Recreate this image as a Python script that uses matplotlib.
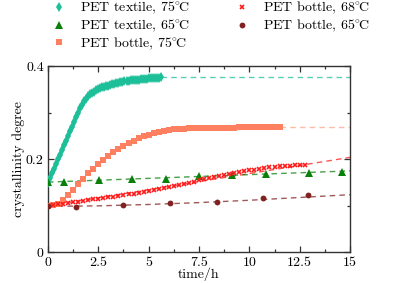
import matplotlib
matplotlib.use("Agg")
import matplotlib.pyplot as plt
from matplotlib.ticker import FuncFormatter, MultipleLocator

# --- data (time in h, crystallinity degree) ---
t_tex75 = [0.0, 0.1, 0.2, 0.3, 0.4, 0.5, 0.6, 0.7, 0.8, 0.9, 1.0,
           1.1, 1.2, 1.3, 1.4, 1.5, 1.6, 1.7, 1.8, 1.9, 2.0,
           2.1, 2.2, 2.3, 2.4, 2.5, 2.6, 2.7, 2.8, 2.9, 3.0,
           3.1, 3.2, 3.3, 3.4, 3.5, 3.6, 3.7, 3.8, 3.9, 4.0,
           4.1, 4.2, 4.3, 4.4, 4.5, 4.6, 4.7, 4.8, 4.9, 5.0,
           5.1, 5.2, 5.3, 5.4, 5.5, 5.6]
c_tex75 = [0.150, 0.160, 0.170, 0.180, 0.190, 0.200, 0.210, 0.220, 0.230, 0.240, 0.250,
           0.260, 0.270, 0.280, 0.290, 0.300, 0.309, 0.317, 0.324, 0.330, 0.335,
           0.339, 0.342, 0.345, 0.348, 0.350, 0.352, 0.354, 0.356, 0.357, 0.358,
           0.359, 0.361, 0.362, 0.363, 0.364, 0.365, 0.366, 0.367, 0.367, 0.368,
           0.369, 0.369, 0.370, 0.371, 0.371, 0.372, 0.372, 0.373, 0.373, 0.374,
           0.374, 0.374, 0.375, 0.375, 0.375, 0.376]

t_bot75 = [0.0, 0.25, 0.5, 0.75, 1.0, 1.25, 1.5, 1.75, 2.0, 2.25, 2.5, 2.75,
           3.0, 3.25, 3.5, 3.75, 4.0, 4.25, 4.5, 4.75, 5.0, 5.25, 5.5, 5.75,
           6.0, 6.25, 6.5, 6.75, 7.0, 7.25, 7.5, 7.75, 8.0, 8.25, 8.5, 8.75,
           9.0, 9.25, 9.5, 9.75, 10.0, 10.25, 10.5, 10.75, 11.0, 11.25, 11.5]
c_bot75 = [0.100, 0.101, 0.105, 0.113, 0.123, 0.134, 0.146, 0.158, 0.170, 0.180, 0.190, 0.199,
           0.207, 0.215, 0.222, 0.229, 0.235, 0.240, 0.245, 0.249, 0.253, 0.256, 0.259, 0.261,
           0.263, 0.264, 0.265, 0.265, 0.266, 0.266, 0.266, 0.267, 0.267, 0.267, 0.268, 0.268,
           0.268, 0.268, 0.269, 0.269, 0.269, 0.269, 0.270, 0.270, 0.270, 0.270, 0.270]

t_bot68 = [0.0, 0.25, 0.5, 0.75, 1.0, 1.25, 1.5, 1.75, 2.0, 2.25, 2.5, 2.75,
           3.0, 3.25, 3.5, 3.75, 4.0, 4.25, 4.5, 4.75, 5.0, 5.25, 5.5, 5.75,
           6.0, 6.25, 6.5, 6.75, 7.0, 7.25, 7.5, 7.75, 8.0, 8.25, 8.5, 8.75,
           9.0, 9.25, 9.5, 9.75, 10.0, 10.25, 10.5, 10.75, 11.0, 11.25, 11.5, 11.75,
           12.0, 12.25, 12.5, 12.75]
c_bot68 = [0.100, 0.102, 0.103, 0.105, 0.106, 0.108, 0.109, 0.111, 0.112, 0.114, 0.115, 0.117,
           0.118, 0.120, 0.121, 0.123, 0.125, 0.126, 0.128, 0.130, 0.132, 0.134, 0.136, 0.138,
           0.140, 0.143, 0.145, 0.147, 0.150, 0.152, 0.155, 0.157, 0.160, 0.162, 0.164, 0.166,
           0.168, 0.170, 0.172, 0.174, 0.176, 0.178, 0.180, 0.182, 0.183, 0.184, 0.185, 0.186,
           0.186, 0.187, 0.187, 0.188]

t_tex65 = [0.0, 0.82, 2.53, 4.19, 5.85, 7.5, 9.13, 10.81, 12.97, 14.6]
c_tex65 = [0.151, 0.152, 0.156, 0.157, 0.158, 0.163, 0.166, 0.168, 0.171, 0.173]

t_bot65 = [0.0, 1.4, 3.72, 6.04, 8.37, 10.69, 12.9]
c_bot65 = [0.099, 0.098, 0.102, 0.106, 0.108, 0.117, 0.123]

# dashed model curves / extrapolations
fit_tex75_t, fit_tex75_c = [5.6, 15.0], [0.376, 0.376]
fit_bot75_t, fit_bot75_c = [11.5, 15.0], [0.270, 0.270]
fit_bot68_t, fit_bot68_c = [0.0, 15.0], [0.100, 0.204]
fit_tex65_t, fit_tex65_c = [0.0, 15.0], [0.151, 0.175]
fit_bot65_t = [0.0, 2.5, 5.0, 7.5, 10.0, 12.5, 15.0]
fit_bot65_c = [0.099, 0.100, 0.103, 0.107, 0.112, 0.118, 0.124]

col_tex75 = "#1dbf99"
col_tex65 = "#0a800a"
col_bot75 = "#ff8060"
col_bot68 = "#ff1a1a"
col_bot65 = "#802222"

plt.rcParams.update({
    "font.family": "serif",
    "font.serif": ["cmr10", "DejaVu Serif"],
    "mathtext.fontset": "cm",
    "axes.formatter.use_mathtext": True,
    "axes.unicode_minus": False,
    "font.size": 10,
})

fig = plt.figure(figsize=(3.93, 2.83), dpi=100)
ax = fig.add_axes([0.1221, 0.1078, 0.7685, 0.659])

dash = dict(ls=(0, (4, 3)), lw=1.0, alpha=0.75, zorder=1)
ax.plot(fit_tex75_t, fit_tex75_c, color=col_tex75, **dash)
ax.plot(fit_bot75_t, fit_bot75_c, color="#ffa585", **dash)
ax.plot(fit_bot68_t, fit_bot68_c, color=col_bot68, **dash)
ax.plot(fit_tex65_t, fit_tex65_c, color=col_tex65, **dash)
ax.plot(fit_bot65_t, fit_bot65_c, color=col_bot65, **dash)

ax.plot(t_tex75, c_tex75, ls="none", marker="d", ms=5.0, color=col_tex75,
        mew=0, label=r"PET textile, 75$^{\circ}\!$C", zorder=3)
ax.plot(t_tex65, c_tex65, ls="none", marker="^", ms=5.5, color=col_tex65,
        mew=0, label=r"PET textile, 65$^{\circ}\!$C", zorder=3)
ax.plot(t_bot75, c_bot75, ls="none", marker="s", ms=3.8, color=col_bot75,
        mew=0, label=r"PET bottle, 75$^{\circ}\!$C", zorder=3)
ax.plot(t_bot68, c_bot68, ls="none", marker="x", ms=3.2, mew=1.2, color=col_bot68,
        label=r"PET bottle, 68$^{\circ}\!$C", zorder=3)
ax.plot(t_bot65, c_bot65, ls="none", marker="o", ms=4.2, color=col_bot65,
        mew=0, label=r"PET bottle, 65$^{\circ}\!$C", zorder=3)

ax.set_xlim(0, 15)
ax.set_ylim(0, 0.4)
ax.xaxis.set_major_locator(MultipleLocator(2.5))
ax.xaxis.set_minor_locator(MultipleLocator(1.25))
ax.yaxis.set_major_locator(MultipleLocator(0.2))
ax.yaxis.set_minor_locator(MultipleLocator(0.1))
fmt = FuncFormatter(lambda v, p: f"{v:g}")
ax.xaxis.set_major_formatter(fmt)
ax.yaxis.set_major_formatter(fmt)
ax.tick_params(which="both", direction="in", top=True, right=True,
               color="#333333", width=0.9, pad=3)
ax.tick_params(which="major", length=4)
ax.tick_params(which="minor", length=2.5)
for s in ax.spines.values():
    s.set_color("#333333")
    s.set_linewidth(1.0)

ax.set_xlabel("time/h")
ax.xaxis.set_label_coords(0.5, -0.08)
ax.set_ylabel("crystallinity degree", labelpad=1)

fig.legend(loc="upper left", bbox_to_anchor=(0.10, 1.045), ncol=2,
           frameon=False, numpoints=1, handlelength=1.0, handletextpad=1.0,
           columnspacing=3.3, labelspacing=0.1)

fig.savefig("out.png", dpi=100)
